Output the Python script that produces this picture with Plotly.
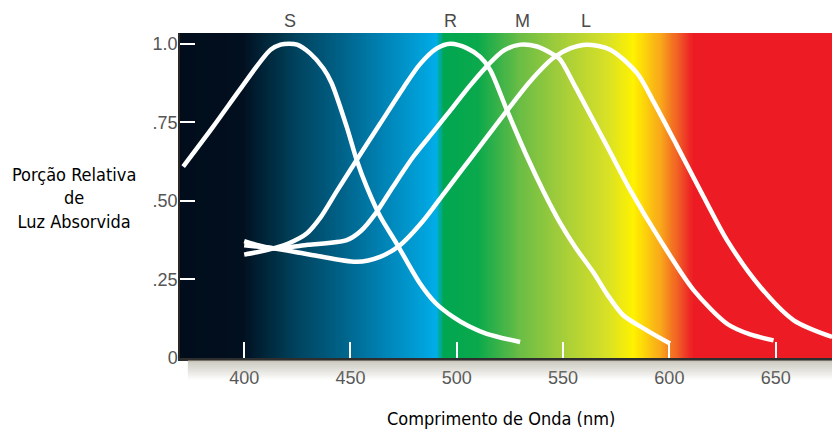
import numpy as np
import plotly.graph_objects as go

# ---------------- data ----------------
x_range = [369.8, 676.5]
y_range = [0, 1.034]

x_ticks = [400, 450, 500, 550, 600, 650]
y_ticks = [0, 0.25, 0.5, 0.75, 1.0]
y_tick_text = ["0", ".25", ".50", ".75", "1.0"]

spec_nm = [369.8, 399, 410, 425, 445, 465, 485, 490.5, 493.5, 510, 530, 550, 570, 583, 596, 606, 611, 676.5]
spec_col = ["#010d1b", "#020f1f", "#00263a", "#00445f", "#006187", "#0082b4", "#00a3dc",
            "#00aeea", "#00a651", "#0ba94c", "#6cbd45", "#a6ce39", "#d6e027", "#fff200",
            "#f8a51b", "#ef4a27", "#ed1c24", "#ed1c24"]

S_nm = [371.3, 385.4, 397.0, 407.7, 412.4, 417.1, 421.0, 424.9, 430.9, 437.2, 441.1, 448.2,
        452.9, 457.6, 464.0, 471.7, 482.7, 490.0, 498.4, 506.0, 514.1, 529.8]
S_val = [0.609, 0.736, 0.845, 0.944, 0.981, 0.997, 1.0, 0.997, 0.970, 0.922, 0.875, 0.736,
         0.630, 0.545, 0.45, 0.364, 0.237, 0.175, 0.130, 0.100, 0.077, 0.051]

R_nm = [400, 407, 413.7, 421, 429.4, 436, 443.5, 452.9, 463.9, 474.9, 482.7, 490.6, 497,
        504.7, 511, 515.7, 523.5, 533, 540.8, 548.6, 556, 564.3, 571.0, 578.3, 589.4, 600.3]
R_val = [0.329, 0.338, 0.349, 0.365, 0.396, 0.448, 0.53, 0.63, 0.745, 0.86, 0.935, 0.985, 1.0,
         0.986, 0.958, 0.917, 0.79, 0.641, 0.53, 0.43, 0.35, 0.272, 0.200, 0.136, 0.088, 0.046]

M_nm = [400, 407, 413.7, 430, 448.2, 455, 462, 470, 479.6, 489, 498.4, 506, 514.1, 522,
        530, 537.7, 545.5, 548.6, 556, 564.3, 572, 581.6, 595.7, 611.4, 627.1, 638, 649]
M_val = [0.372, 0.358, 0.349, 0.36, 0.375, 0.405, 0.462, 0.545, 0.641, 0.72, 0.80, 0.865, 0.928,
         0.978, 0.997, 0.991, 0.965, 0.95, 0.86, 0.755, 0.657, 0.534, 0.375, 0.216, 0.109, 0.075, 0.056]

L_nm = [400, 407, 413.7, 432.5, 452.9, 463.9, 473.3, 484, 494, 502, 511, 523.5, 534.5, 545.5,
        553.3, 561.2, 572.2, 584.7, 592.6, 603.6, 616.1, 627.1, 642.8, 658.5, 676.6]
L_val = [0.359, 0.354, 0.349, 0.327, 0.306, 0.322, 0.359, 0.435, 0.524, 0.595, 0.675, 0.786,
         0.88, 0.955, 0.985, 0.997, 0.981, 0.907, 0.815, 0.675, 0.513, 0.375, 0.226, 0.120, 0.067]

labels = ["S", "R", "M", "L"]
label_nm = [421.6, 497.0, 530.7, 560.6]

# ---------------- figure ----------------
fig = go.Figure()

# spectrum background
edges = np.arange(x_range[0], x_range[1] + 0.5, 0.5)
mids = (edges[:-1] + edges[1:]) / 2
span = x_range[1] - x_range[0]
cscale = [[(n - x_range[0]) / span, c] for n, c in zip(spec_nm, spec_col)]
fig.add_trace(go.Heatmap(x=edges, y=[0, y_range[1]], z=[mids], colorscale=cscale,
                         zmin=x_range[0], zmax=x_range[1], showscale=False,
                         hoverinfo="skip"))

for xs, ys in [(S_nm, S_val), (R_nm, R_val), (M_nm, M_val), (L_nm, L_val)]:
    fig.add_trace(go.Scatter(x=xs, y=ys, mode="lines",
                             line=dict(color="white", width=4.5, shape="spline", smoothing=0.8),
                             hoverinfo="skip", showlegend=False))

font_narrow = "DejaVu Sans Condensed, Roboto, sans-serif"
font_tick = "Liberation Sans, Arial, sans-serif"

for lab, xn in zip(labels, label_nm):
    fig.add_annotation(x=xn, y=1.0, yref="paper", text=lab, showarrow=False,
                       yanchor="bottom", xanchor="center",
                       font=dict(family=font_tick, size=18, color="#4a4a4a"))

fig.add_annotation(x=-0.1626, xref="paper", y=0.492, yref="paper", showarrow=False,
                   text="Porção Relativa<br>de<br>Luz Absorvida", xanchor="center", yanchor="middle",
                   align="center",
                   font=dict(family=font_narrow, size=18, color="#000000"))

fig.add_annotation(x=0.492, xref="paper", y=-0.185, yref="paper", showarrow=False,
                   text="Comprimento de Onda (nm)", xanchor="center", yanchor="middle",
                   font=dict(family=font_narrow, size=18, color="#000000"))

# shadow under the x axis
for i in range(10):
    fig.add_shape(type="rect", xref="paper", yref="paper", x0=0.012, x1=1.0,
                  y0=-0.006 - 0.006 * (i + 1), y1=-0.006 - 0.006 * i,
                  line=dict(width=0), fillcolor="#a5a291", opacity=0.6 * (1 - i / 10))

fig.update_layout(
    width=832, height=430,
    margin=dict(l=180, r=0, t=33, b=72),
    paper_bgcolor="white", plot_bgcolor="white",
    showlegend=False,
    xaxis=dict(range=x_range, tickvals=x_ticks, ticks="inside", ticklen=16, tickwidth=1.5,
               tickcolor="white", showgrid=False, zeroline=False, showline=True,
               linecolor="#2e2e2e", linewidth=2.5, ticklabelstandoff=2,
               tickfont=dict(family=font_tick, size=18, color="#555555")),
    yaxis=dict(range=y_range, tickvals=y_ticks, ticktext=y_tick_text, ticks="inside", ticklen=15,
               tickwidth=1.5, tickcolor="white", showgrid=False, zeroline=False, showline=True,
               linecolor="#2e2622", linewidth=1.5, ticklabelstandoff=-3,
               tickfont=dict(family=font_tick, size=18, color="#555555")),
)

fig.write_html("out.html")
